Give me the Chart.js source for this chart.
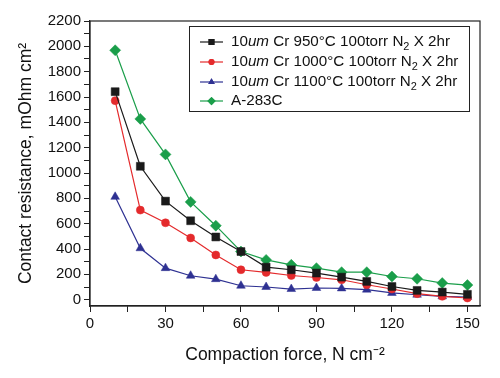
<!DOCTYPE html>
<html><head><meta charset="utf-8">
<script src="https://cdn.jsdelivr.net/npm/chart.js@4/dist/chart.umd.min.js"></script>
<style>html,body{margin:0;padding:0;background:#fff}#w{width:500px;height:378px}</style>
</head><body><div id="w"><canvas id="c" width="500" height="378"></canvas></div>
<script>
// ---- data ----
const forces = [10, 20, 30, 40, 50, 60, 70, 80, 90, 100, 110, 120, 130, 140, 150];
const cr950  = [1642, 1053, 778, 623, 495, 380, 257, 236, 210, 178, 144, 104, 73, 60, 42];
const cr1000 = [1571, 707, 607, 487, 353, 236, 215, 191, 175, 157, 118, 84, 47, 26, 13];
const cr1100 = [812, 406, 249, 189, 162, 110, 100, 84, 92, 89, 79, 53, 39, 26, 21];
const a283c  = [1969, 1427, 1147, 772, 584, 380, 314, 275, 249, 217, 217, 183, 165, 131, 115];
// *...* = italic, _x = subscript
const seriesLabels = [
  "10*um* Cr 950°C 100torr N_2 X 2hr",
  "10*um* Cr 1000°C 100torr N_2 X 2hr",
  "10*um* Cr 1100°C 100torr N_2 X 2hr",
  "A-283C"
];
const xTickLabels = [0, 30, 60, 90, 120, 150];
const yTickLabels = [0, 200, 400, 600, 800, 1000, 1200, 1400, 1600, 1800, 2000, 2200];
const xTitle = "Compaction force, N cm\u207B\u00B2";
const yTitle = "Contact resistance, mOhm cm\u00B2";

const FONT = "'Liberation Sans', Arial, sans-serif";
const colors = ['#1a1a1a', '#e42a2c', '#2e3192', '#1a9e4a'];
const styles = ['rect', 'circle', 'triangle', 'rectRot'];
const radii = [5.6, 4, 5, 5.5];
const values = [cr950, cr1000, cr1100, a283c];

const datasets = values.map((v, i) => ({
  label: seriesLabels[i].replace(/\*/g, '').replace(/_/g, ''),
  rich: seriesLabels[i],
  data: forces.map((f, k) => ({x: f, y: v[k]})),
  borderColor: colors[i],
  backgroundColor: colors[i],
  borderWidth: 1.2,
  pointStyle: styles[i],
  pointRadius: radii[i],
  pointBorderWidth: 0.5,
  pointBorderColor: colors[i],
  pointBackgroundColor: colors[i],
  tension: 0
}));

function drawRich(ctx, text, x, y, size) {
  const parts = text.split(/(\*[^*]+\*|_\S)/).filter(s => s.length);
  let cx = x;
  ctx.textBaseline = 'middle';
  ctx.textAlign = 'left';
  for (const p of parts) {
    if (p[0] === '*') {
      ctx.font = 'italic ' + size + 'px ' + FONT;
      const t = p.slice(1, -1);
      ctx.fillText(t, cx, y); cx += ctx.measureText(t).width;
    } else if (p[0] === '_') {
      ctx.font = (size * 0.72) + 'px ' + FONT;
      const t = p.slice(1);
      ctx.fillText(t, cx, y + size * 0.3); cx += ctx.measureText(t).width;
    } else {
      ctx.font = size + 'px ' + FONT;
      ctx.fillText(p, cx, y); cx += ctx.measureText(p).width;
    }
  }
}

const framePlugin = {
  id: 'frame',
  afterDatasetsDraw(chart) {
    const {ctx, chartArea: a} = chart;
    ctx.save();
    ctx.strokeStyle = '#222';
    ctx.lineWidth = 1.2;
    ctx.strokeRect(a.left, a.top, a.right - a.left, a.bottom - a.top);
    // legend box
    const bx = 189, by = 26, bw = 280, bh = 85;
    ctx.fillStyle = '#fff';
    ctx.fillRect(bx, by, bw, bh);
    ctx.lineWidth = 1;
    ctx.strokeStyle = '#222';
    ctx.strokeRect(bx + 0.5, by + 0.5, bw, bh);
    const rows = [42, 62, 82, 101];
    chart.data.datasets.forEach((ds, i) => {
      const y = rows[i];
      ctx.strokeStyle = ds.borderColor;
      ctx.lineWidth = 1.2;
      ctx.beginPath(); ctx.moveTo(200, y); ctx.lineTo(223, y); ctx.stroke();
      ctx.fillStyle = ds.backgroundColor;
      Chart.helpers.drawPoint(ctx, {pointStyle: ds.pointStyle, radius: ds.pointRadius * 0.75, rotation: 0, borderWidth: 0}, 211.5, y);
      ctx.fill();
      ctx.fillStyle = '#111';
      drawRich(ctx, ds.rich, 231, y, 15.2);
    });
    ctx.restore();
  }
};

new Chart(document.getElementById('c'), {
  type: 'line',
  data: {datasets},
  options: {
    responsive: false,
    animation: false,
    devicePixelRatio: 1,
    layout: {padding: {top: 21, right: 20, left: 0, bottom: 0}},
    plugins: {legend: {display: false}, tooltip: {enabled: false}},
    scales: {
      x: {
        type: 'linear', min: 0, max: 155,
        afterBuildTicks: s => { const t = []; for (let v = 0; v <= 150; v += 15) t.push({value: v}); s.ticks = t; },
        ticks: {
          color: '#111', font: {family: FONT, size: 15}, padding: 3, maxRotation: 0, autoSkip: false,
          callback: v => xTickLabels.includes(v) ? String(v) : ''
        },
        grid: {drawOnChartArea: false, drawTicks: true, tickLength: 6, color: '#222', lineWidth: 1},
        border: {display: true, color: '#222', width: 1.2},
        title: {display: true, text: xTitle, color: '#111', font: {family: FONT, size: 17.5}, padding: {top: 0, bottom: 12.5}},
        afterFit: s => { s.height = 72; }
      },
      y: {
        type: 'linear', min: -50, max: 2200,
        afterBuildTicks: s => { const t = []; for (let v = 0; v <= 2200; v += 100) t.push({value: v}); s.ticks = t; },
        ticks: {
          color: '#111', font: {family: FONT, size: 15}, padding: 3, autoSkip: false,
          callback: v => yTickLabels.includes(v) ? String(v) : ''
        },
        grid: {drawOnChartArea: false, drawTicks: true, tickLength: 6, color: '#222', lineWidth: 1},
        border: {display: true, color: '#222', width: 1.2},
        title: {display: true, text: yTitle, color: '#111', font: {family: FONT, size: 17.5}, padding: {top: 16, bottom: 0}},
        afterFit: s => { s.width = 90; }
      }
    }
  },
  plugins: [framePlugin]
});
</script>
</body></html>
